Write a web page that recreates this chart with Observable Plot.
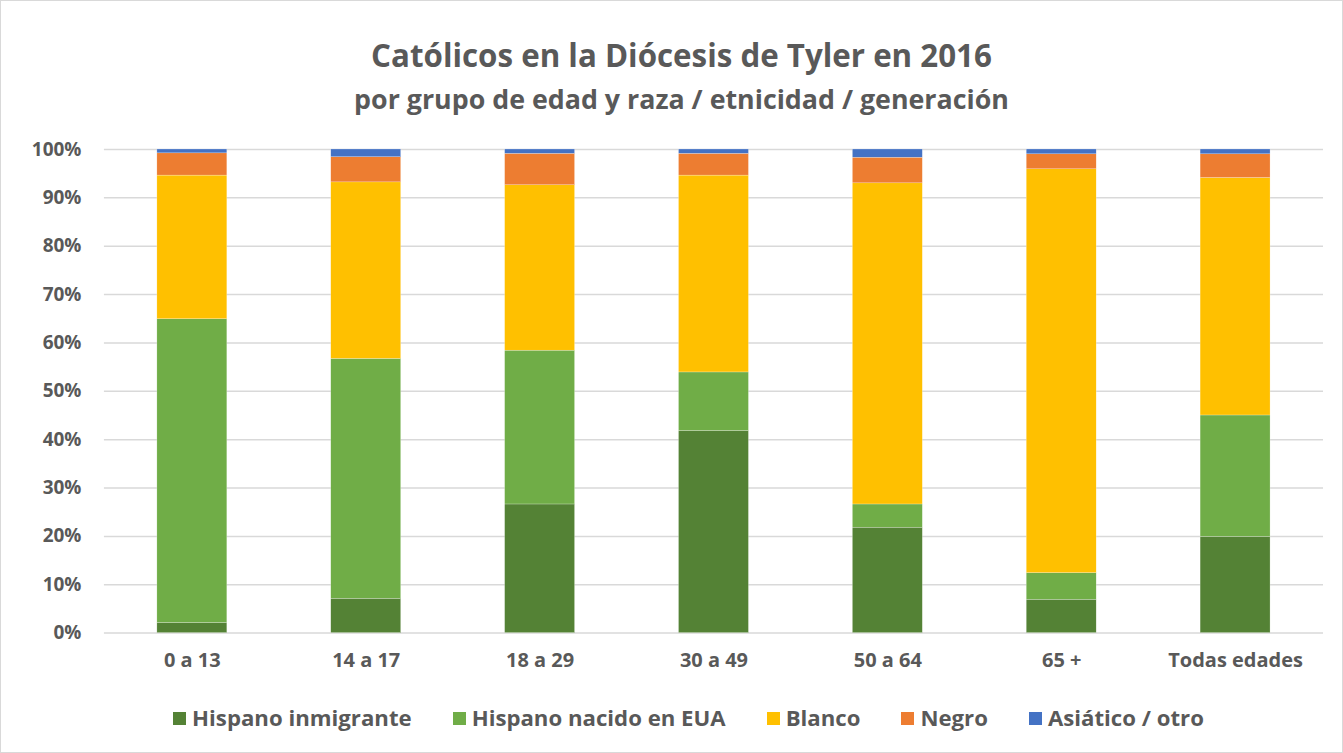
<!DOCTYPE html>
<html>
<head>
<meta charset="utf-8">
<script src="https://cdn.jsdelivr.net/npm/d3@7"></script>
<script src="https://cdn.jsdelivr.net/npm/@observablehq/plot@0.6"></script>
<style>
  html, body { margin: 0; padding: 0; background: #fff; }
  #frame { position: relative; width: 1341px; height: 751px; border: 1px solid #d9d9d9; overflow: hidden; font-family: "Open Sans", sans-serif; color: #595959; }
  #title { position: absolute; top: 35px; left: 20px; width: 1321px; text-align: center; font-weight: bold; font-size: 31.3px; line-height: 38px; }
  #subtitle { position: absolute; top: 82px; left: 20px; width: 1321px; text-align: center; font-weight: bold; font-size: 26.8px; line-height: 32px; }
  #chart { position: absolute; top: 120px; left: -1px; }
  #legend { position: absolute; top: 702px; left: 34px; width: 1307px; display: flex; justify-content: center; gap: 41px; font-weight: bold; font-size: 22.2px; line-height: 30px; }
  .item { display: flex; align-items: center; gap: 6px; }
  .sw { width: 13px; height: 13px; display: inline-block; }
</style>
</head>
<body>
<div id="frame">
  <div id="title">Católicos en la Diócesis de Tyler en 2016</div>
  <div id="subtitle">por grupo de edad y raza / etnicidad / generación</div>
  <div id="chart"></div>
  <div id="legend"></div>
</div>
<script>
const categories = ["0 a 13", "14 a 17", "18 a 29", "30 a 49", "50 a 64", "65 +", "Todas edades"];
const seriesNames = ["Hispano inmigrante", "Hispano nacido en EUA", "Blanco", "Negro", "Asiático / otro"];
const seriesColors = ["#548235", "#70AD47", "#FFC000", "#ED7D31", "#4472C4"];
const hispanoInmigrante = [2.1, 7.1, 26.6, 41.8, 21.8, 6.9, 19.9];
const hispanoNacido =     [62.8, 49.6, 31.8, 12.1, 4.8, 5.5, 25.1];
const blanco =            [29.7, 36.5, 34.2, 40.7, 66.4, 83.5, 49.1];
const negro =             [4.6, 5.2, 6.5, 4.5, 5.3, 3.1, 4.9];
const asiatico =          [0.8, 1.6, 0.9, 0.9, 1.7, 1.0, 1.0];
const yTicks = [0, 10, 20, 30, 40, 50, 60, 70, 80, 90, 100];

const seriesValues = [hispanoInmigrante, hispanoNacido, blanco, negro, asiatico];
const data = [];
categories.forEach((c, i) => {
  seriesNames.forEach((s, j) => data.push({ cat: c, serie: s, value: seriesValues[j][i] }));
});

const chart = Plot.plot({
  width: 1343,
  height: 560,
  marginTop: 28,
  marginBottom: 48,
  marginLeft: 104,
  marginRight: 19,
  style: { fontFamily: "'Open Sans', sans-serif", fontWeight: "bold", fontSize: "19px", color: "#595959", background: "transparent" },
  x: { domain: categories, paddingInner: 0.6, paddingOuter: 0.3, label: null, tickSize: 0, tickPadding: 20 },
  y: { domain: [0, 100], ticks: yTicks, tickFormat: d => d + "%", label: null, tickSize: 0, tickPadding: 23 },
  color: { domain: seriesNames, range: seriesColors },
  marks: [
    Plot.gridY(yTicks, { stroke: "#d9d9d9", strokeOpacity: 1, strokeWidth: 1.5 }),
    Plot.barY(data, { x: "cat", y: "value", fill: "serie", order: seriesNames, stroke: "#fff", strokeWidth: 0.4, strokeOpacity: 0.6 }),
    Plot.axisX({ tickSize: 0, tickPadding: 20, fontSize: 20, label: null })
  ]
});
document.getElementById("chart").appendChild(chart);

const legend = document.getElementById("legend");
seriesNames.forEach((s, j) => {
  const it = document.createElement("div");
  it.className = "item";
  const sw = document.createElement("span");
  sw.className = "sw";
  sw.style.background = seriesColors[j];
  const t = document.createElement("span");
  t.textContent = s;
  it.appendChild(sw);
  it.appendChild(t);
  legend.appendChild(it);
});
</script>
</body>
</html>
